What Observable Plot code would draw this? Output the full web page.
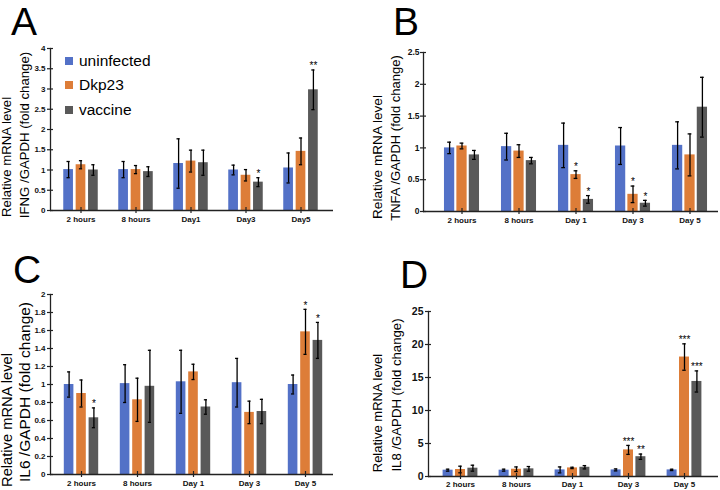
<!DOCTYPE html>
<html><head><meta charset="utf-8">
<script src="https://cdn.jsdelivr.net/npm/d3@7"></script>
<script src="https://cdn.jsdelivr.net/npm/@observablehq/plot@0.6"></script>
<style>
body{margin:0;background:#fff;}
#chart{position:relative;width:720px;height:490px;overflow:hidden;font-family:"Liberation Sans",Arial,sans-serif;color:#000;}
.panel{position:absolute;}
.letter{position:absolute;font-size:39px;line-height:44px;}
.ylab{position:absolute;white-space:nowrap;transform:translate(-50%,-50%) rotate(-90deg);line-height:1;}
.legsq{position:absolute;width:8px;height:8px;}
.legtx{position:absolute;font-size:15.5px;line-height:16px;transform:translateY(-50%);}
</style></head><body><div id="chart"></div>
<script>
const seriesNames = ["uninfected", "Dkp23", "vaccine"];
const seriesColors = ["#5371c7", "#dd7d38", "#595959"];

// Panel A: IFNG
const catsA = ["2 hours", "8 hours", "Day1", "Day3", "Day5"];
const ifngUninf = [1.01, 1.01, 1.16, 1.0, 1.05];
const ifngUninfErr = [0.2, 0.2, 0.61, 0.12, 0.37];
const ifngDkp = [1.13, 1.01, 1.22, 0.87, 1.46];
const ifngDkpErr = [0.1, 0.1, 0.27, 0.14, 0.33];
const ifngVac = [1.0, 0.96, 1.18, 0.7, 2.98];
const ifngVacErr = [0.13, 0.12, 0.31, 0.11, 0.49];
const ifngSig = [["", "", "", "", ""], ["", "", "", "", ""], ["", "", "", "*", "**"]];
const ticksA = [0, 0.5, 1, 1.5, 2, 2.5, 3, 3.5, 4];

// Panel B: TNFA
const catsB = ["2 hours", "8 hours", "Day 1", "Day 3", "Day 5"];
const tnfaUninf = [1.0, 1.02, 1.04, 1.03, 1.04];
const tnfaUninfErr = [0.09, 0.21, 0.35, 0.29, 0.37];
const tnfaDkp = [1.03, 0.95, 0.58, 0.27, 0.89];
const tnfaDkpErr = [0.045, 0.1, 0.06, 0.13, 0.33];
const tnfaVac = [0.89, 0.8, 0.19, 0.13, 1.64];
const tnfaVacErr = [0.07, 0.05, 0.06, 0.045, 0.47];
const tnfaSig = [["", "", "", "", ""], ["", "", "*", "*", ""], ["", "", "*", "*", ""]];
const ticksB = [0, 0.5, 1, 1.5, 2, 2.5];

// Panel C: IL6
const catsC = ["2 hours", "8 hours", "Day 1", "Day 3", "Day 5"];
const il6Uninf = [1.0, 1.01, 1.03, 1.02, 1.0];
const il6UninfErr = [0.14, 0.21, 0.35, 0.27, 0.105];
const il6Dkp = [0.9, 0.83, 1.14, 0.69, 1.585];
const il6DkpErr = [0.15, 0.24, 0.085, 0.125, 0.25];
const il6Vac = [0.63, 0.98, 0.75, 0.7, 1.49];
const il6VacErr = [0.11, 0.4, 0.08, 0.135, 0.2];
const il6Sig = [["", "", "", "", ""], ["", "", "", "", "*"], ["*", "", "", "", "*"]];
const ticksC = [0, 0.2, 0.4, 0.6, 0.8, 1, 1.2, 1.4, 1.6, 1.8, 2];

// Panel D: IL8
const catsD = ["2 hours", "8 hours", "Day 1", "Day 3", "Day 5"];
const il8Uninf = [0.96, 0.96, 1.0, 1.0, 1.0];
const il8UninfErr = [0.15, 0.15, 0.45, 0.15, 0.1];
const il8Dkp = [1.06, 1.1, 1.3, 4.03, 18.1];
const il8DkpErr = [0.5, 0.35, 0.1, 0.68, 2.0];
const il8Vac = [1.26, 1.16, 1.4, 3.0, 14.4];
const il8VacErr = [0.45, 0.35, 0.25, 0.4, 1.6];
const il8Sig = [["", "", "", "", ""], ["", "", "", "***", "***"], ["", "", "", "**", "***"]];
const ticksD = [0, 5, 10, 15, 20, 25];

const chart = document.getElementById("chart");

function addLetter(t, x, y) {
  const d = document.createElement("div");
  d.className = "letter"; d.textContent = t;
  d.style.left = x + "px"; d.style.top = y + "px";
  chart.appendChild(d);
}
function addYLabel(t, cx, cy, fs) {
  const d = document.createElement("div");
  d.className = "ylab"; d.textContent = t;
  d.style.left = cx + "px"; d.style.top = cy + "px"; d.style.fontSize = fs + "px";
  chart.appendChild(d);
}

addLetter("A", 11, 0);
addLetter("B", 393, 0);
addLetter("C", 13, 248);
addLetter("D", 400, 253);

addYLabel("Relative mRNA level", 7, 157, 13.2);
addYLabel("IFNG /GAPDH (fold change)", 25, 135, 13.2);
addYLabel("Relative mRNA level", 378, 157, 13.6);
addYLabel("TNFA /GAPDH (fold change)", 395, 138, 13);
addYLabel("Relative mRNA level", 7, 420, 14.7);
addYLabel("IL6 /GAPDH (fold change)", 25, 392, 15.5);
addYLabel("Relative mRNA level", 377, 413, 13);
addYLabel("IL8 /GAPDH (fold change)", 397, 395, 13.2);

function buildPanel(cfg) {
  const {cats, means, errs, sigs, ticks, width, height, margin, xRange, yFont, yPad, xPad} = cfg;
  const bw = (xRange[1] - xRange[0]) / cats.length;
  const barW = 10.5, capW = 4, off = 12.4;
  const barMarks = [], errMarks = [];
  seriesNames.forEach((s, j) => {
    const rows = cats.map((c, i) => ({cat: c, mean: means[j][i], err: errs[j][i], sig: sigs[j][i]}));
    const dx = (j - 1) * off;
    barMarks.push(Plot.barY(rows, {x: "cat", y: "mean", fill: seriesColors[j], dx,
      insetLeft: (bw - barW) / 2, insetRight: (bw - barW) / 2}));
    errMarks.push(Plot.ruleX(rows, {x: "cat", y1: d => d.mean - d.err, y2: d => d.mean + d.err, dx, stroke: "#000", strokeWidth: 1.3}));
    errMarks.push(Plot.tickY(rows, {x: "cat", y: d => d.mean + d.err, dx, stroke: "#000", strokeWidth: 1.3,
      insetLeft: (bw - capW) / 2, insetRight: (bw - capW) / 2}));
    errMarks.push(Plot.tickY(rows, {x: "cat", y: d => d.mean - d.err, dx, stroke: "#000", strokeWidth: 1.3,
      insetLeft: (bw - capW) / 2, insetRight: (bw - capW) / 2}));
    errMarks.push(Plot.text(rows.filter(d => d.sig), {x: "cat", y: d => d.mean + d.err, text: "sig", dx, dy: -4,
      fontSize: 10, fill: "#000", textAnchor: "middle"}));
  });
  const svg = Plot.plot({
    width, height,
    marginLeft: margin[0], marginRight: margin[1], marginTop: margin[2], marginBottom: margin[3],
    style: {fontFamily: "'Liberation Sans', Arial, sans-serif", background: "transparent", overflow: "visible", color: "#000"},
    x: {domain: cats, range: xRange, padding: 0},
    y: {domain: [ticks[0], ticks[ticks.length - 1]]},
    marks: [
      ...barMarks,
      Plot.ruleY([0], {stroke: "#222", strokeWidth: 1.3}),
      Plot.frame({anchor: "left", stroke: "#222", strokeWidth: 1.3}),
      Plot.axisY({anchor: "left", ticks, tickSize: 0, tickPadding: yPad, tickFormat: d => String(d), label: null,
        fontWeight: "bold", fontSize: yFont, fill: "#111"}),
      Plot.axisY({anchor: "left", ticks, tickSize: 6, dx: 3, tickFormat: () => "", label: null, stroke: "#222", strokeWidth: 1.2}),
      Plot.axisX({tickSize: 0, tickPadding: xPad, label: null, fontWeight: "bold", fontSize: 8, fill: "#111"}),
      Plot.axisX({tickSize: 6, dy: -3, tickFormat: () => "", label: null, stroke: "#222", strokeWidth: 1.2}),
      ...errMarks
    ]
  });
  const div = document.createElement("div");
  div.className = "panel";
  div.style.left = cfg.left + "px";
  div.style.top = cfg.top + "px";
  div.appendChild(svg);
  chart.appendChild(div);
}

buildPanel({cats: catsA, means: [ifngUninf, ifngDkp, ifngVac], errs: [ifngUninfErr, ifngDkpErr, ifngVacErr],
  sigs: ifngSig, ticks: ticksA, width: 360, height: 240, margin: [50, 27, 48, 30], xRange: [51, 330], yFont: 8, yPad: 5, xPad: 6, left: 0, top: 0});
buildPanel({cats: catsB, means: [tnfaUninf, tnfaDkp, tnfaVac], errs: [tnfaUninfErr, tnfaDkpErr, tnfaVacErr],
  sigs: tnfaSig, ticks: ticksB, width: 360, height: 240, margin: [63, 2, 52, 29], xRange: [72.4, 358.6], yFont: 8.5, yPad: 4, xPad: 6, left: 360, top: 0});
buildPanel({cats: catsC, means: [il6Uninf, il6Dkp, il6Vac], errs: [il6UninfErr, il6DkpErr, il6VacErr],
  sigs: il6Sig, ticks: ticksC, width: 360, height: 250, margin: [50, 27, 54, 16], xRange: [51, 335.5], yFont: 8, yPad: 5, xPad: 6, left: 0, top: 240});
buildPanel({cats: catsD, means: [il8Uninf, il8Dkp, il8Vac], errs: [il8UninfErr, il8DkpErr, il8VacErr],
  sigs: il8Sig, ticks: ticksD, width: 360, height: 250, margin: [68, 2, 71, 14], xRange: [70.75, 353.25], yFont: 10.5, yPad: 5, xPad: 5, left: 360, top: 240});

// legend in panel A
const legY = [61, 85, 110];
seriesNames.forEach((s, j) => {
  const sq = document.createElement("div");
  sq.className = "legsq"; sq.style.background = seriesColors[j];
  sq.style.left = "65px"; sq.style.top = (legY[j] - 4) + "px";
  chart.appendChild(sq);
  const tx = document.createElement("div");
  tx.className = "legtx"; tx.textContent = s;
  tx.style.left = "79px"; tx.style.top = legY[j] + "px";
  chart.appendChild(tx);
});
</script>
</body></html>
